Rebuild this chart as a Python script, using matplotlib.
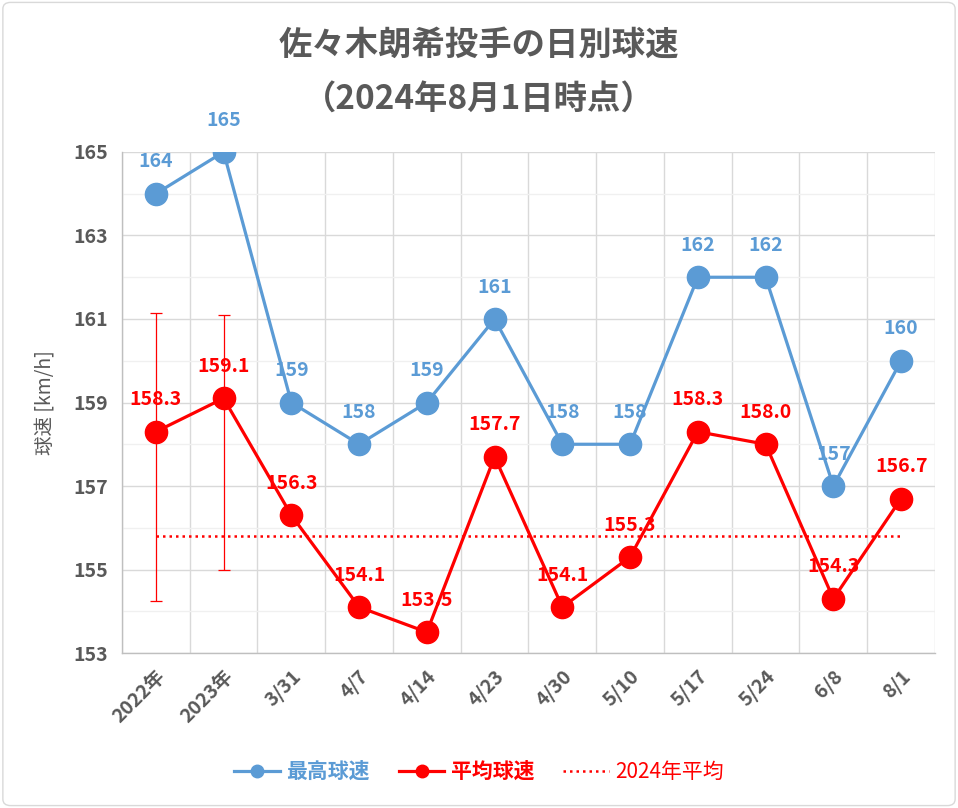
#!/usr/bin/env python3
"""Daily pitch speed chart (max / average) with 2024 average line."""

import matplotlib
matplotlib.use("Agg")
import matplotlib.pyplot as plt
from matplotlib.patches import FancyBboxPatch
from matplotlib.ticker import MultipleLocator

plt.rcParams['font.family'] = ['Noto Sans CJK JP', 'DejaVu Sans']

# --- data ---
categories = ['2022年', '2023年', '3/31', '4/7', '4/14', '4/23', '4/30',
              '5/10', '5/17', '5/24', '6/8', '8/1']
max_speed = [164, 165, 159, 158, 159, 161, 158, 158, 162, 162, 157, 160]
avg_speed = [158.3, 159.1, 156.3, 154.1, 153.5, 157.7, 154.1, 155.3,
             158.3, 158.0, 154.3, 156.7]
range_low = [154.25, 155.0]     # error bars for 2022 / 2023
range_high = [161.15, 161.1]
avg_2024 = 155.8

BLUE = '#5B9BD5'
RED = '#FF0000'
GRAY = '#595959'

fig = plt.figure(figsize=(9.58, 8.08), dpi=100)
ax = fig.add_axes([0.1273, 0.1918, 0.976 - 0.1273, 0.8119 - 0.1918])

x = list(range(len(categories)))

ax.plot(x, max_speed, color=BLUE, lw=2.3, marker='o', ms=16, zorder=4,
        label='最高球速')
ax.plot(x, avg_speed, color=RED, lw=2.3, marker='o', ms=16, zorder=5,
        label='平均球速')
ax.plot([x[0], x[-1]], [avg_2024, avg_2024], color=RED, lw=1.8,
        ls=(0, (1, 1.6)), zorder=3, label='2024年平均')

n_err = len(range_low)
ax.errorbar(x[:n_err], avg_speed[:n_err],
            yerr=[[avg_speed[i] - range_low[i] for i in range(n_err)],
                  [range_high[i] - avg_speed[i] for i in range(n_err)]],
            fmt='none', ecolor=RED, elinewidth=0.9, capsize=4, capthick=0.9,
            zorder=3)

for xi, v in zip(x, max_speed):
    ax.annotate(f'{v}', (xi, v), xytext=(0, 23), textcoords='offset points',
                ha='center', va='center', color=BLUE, fontsize=14,
                fontweight='bold', zorder=6)
for xi, v in zip(x, avg_speed):
    ax.annotate(f'{v:.1f}', (xi, v), xytext=(0, 23), textcoords='offset points',
                ha='center', va='center', color=RED, fontsize=14,
                fontweight='bold', zorder=6)

# --- axes ---
ax.set_xlim(-0.5, len(categories) - 0.5)
ax.set_ylim(153, 165)
ax.yaxis.set_minor_locator(MultipleLocator(1))
ax.set_yticks([153, 155, 157, 159, 161, 163, 165])
ax.set_xticks(x)
ax.set_xticklabels(categories, rotation=45, ha='right', rotation_mode='anchor',
                   fontsize=14, fontweight='bold', color=GRAY)
for lab in ax.get_yticklabels():
    lab.set_fontsize(14)
    lab.set_fontweight('bold')
    lab.set_color(GRAY)
ax.tick_params(axis='both', which='both', length=0)
ax.tick_params(axis='both', which='major', pad=10)

ax.set_xticks([i - 0.5 for i in range(len(categories) + 1)], minor=True)
ax.grid(True, which='major', axis='y', color='#D9D9D9', lw=1)
ax.grid(True, which='minor', axis='y', color='#F0F0F0', lw=1)
ax.grid(True, which='minor', axis='x', color='#D9D9D9', lw=1)
ax.grid(False, which='major', axis='x')
ax.set_axisbelow(True)

for side in ['top', 'right']:
    ax.spines[side].set_visible(False)
for side in ['left', 'bottom']:
    ax.spines[side].set_color('#BFBFBF')
    ax.spines[side].set_linewidth(1)

ax.set_ylabel('球速 [km/h]', fontsize=14, color=GRAY, labelpad=12)

# --- title ---
fig.text(0.5, 1 - 45 / 808, '佐々木朗希投手の日別球速', ha='center', va='center',
         fontsize=24, fontweight='bold', color=GRAY)
fig.text(0.5, 1 - 100 / 808, '（2024年8月1日時点）', ha='center', va='center',
         fontsize=24, fontweight='bold', color=GRAY)

# --- legend ---
leg = fig.legend(loc='center', bbox_to_anchor=(0.5, 1 - 772 / 808), ncol=3,
                 frameon=False, fontsize=15, handlelength=2.2,
                 columnspacing=1.4, handletextpad=0.3)
for txt, col, w in zip(leg.get_texts(), [BLUE, RED, RED],
                       ['bold', 'bold', 'normal']):
    txt.set_color(col)
    txt.set_fontweight(w)
for h in leg.legend_handles[:2]:
    h.set_markersize(9)

# --- outer border ---
fig.patches.append(FancyBboxPatch((0.003, 0.003), 0.994, 0.994,
                                  boxstyle='round,pad=0,rounding_size=0.008',
                                  transform=fig.transFigure, fill=False,
                                  ec='#D9D9D9', lw=1))

fig.savefig('out.png', dpi=100)
